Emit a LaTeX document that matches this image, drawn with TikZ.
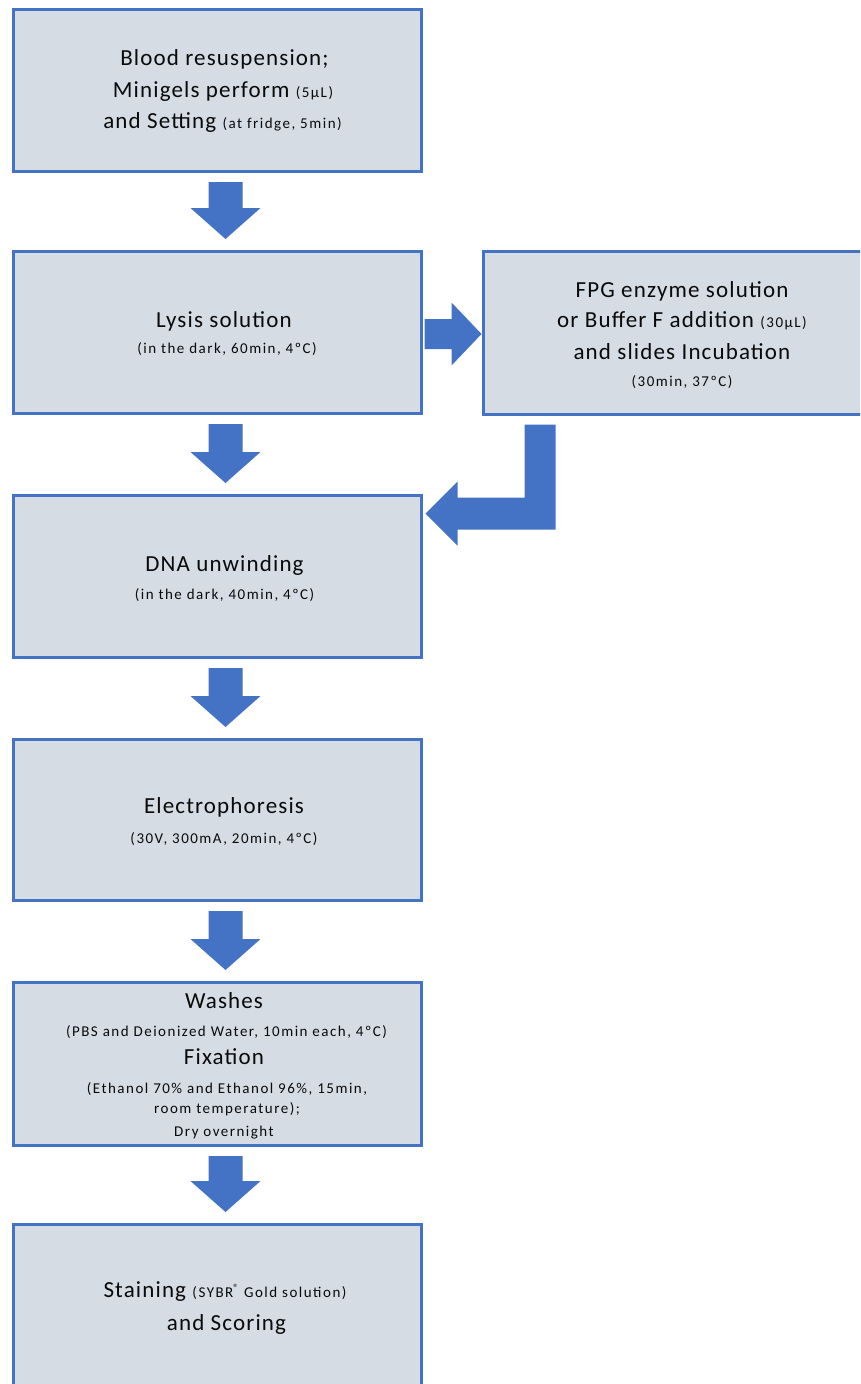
\documentclass[tikz,border=0pt]{standalone}
\usepackage{fontspec}
\setmainfont{Carlito}
\newfontfamily\MainFam[LetterSpace=5]{Carlito}
\newfontfamily\SmallFam[LetterSpace=10]{Carlito}
\newcommand\MainTxt{\MainFam\fontsize{23}{28}\selectfont}
\newcommand\SmTxt{\SmallFam\fontsize{15}{18}\selectfont}
\usetikzlibrary{calc}
\definecolor{boxfill}{HTML}{D5DCE4}
\definecolor{boxline}{HTML}{4472C4}
\definecolor{txt}{HTML}{0A0A0A}
\newcommand\DownArr[2]{%
 \fill[blk] let \p1=($(#1.south)+(8,9)$), \p2=($(#2.north)+(8,-11)$) in
 ({\x1-17pt},\y1) -- ({\x1+17pt},\y1) -- ({\x1+17pt},{\y2+31pt}) -- ({\x1+35pt},{\y2+31pt})
 -- (\x1,\y2) -- ({\x1-35pt},{\y2+31pt}) -- ({\x1-17pt},{\y2+31pt}) -- cycle;}
\begin{document}
\begin{tikzpicture}[x=1pt,y=-1pt,
 stepbox/.style={draw=boxline,line width=3pt,fill=boxfill,minimum width=408pt,minimum height=162pt,inner sep=0pt},
 ln/.style={anchor=base,inner sep=0pt,text=txt,font=\MainTxt},
 sl/.style={anchor=base,inner sep=0pt,text=txt,font=\SmTxt},
 blk/.style={fill=boxline}]
\useasboundingbox (0,0) rectangle (860,1384);
\begin{scope}
\clip (0,0) rectangle (860,1384);
% boxes
\node[stepbox] (b1) at (217.5,90.5) {};
\node[stepbox] (b2) at (217.5,332.5) {};
\node[stepbox,minimum width=396.5pt,minimum height=163pt] (fpg) at (681.75,333) {};
\node[stepbox] (b3) at (217.5,576.5) {};
\node[stepbox,minimum height=161pt] (b4) at (217.5,820) {};
\node[stepbox,minimum height=163pt] (b5) at (217.5,1064) {};
\node[stepbox,minimum height=163pt] (b6) at (217.5,1306) {};
% texts
\node[ln] (t1a) at (224.5,65) {Blood resuspension;};
\node[ln] (t1b) at (223,97) {Minigels perform {\SmTxt (5µL)}};
\node[ln] (t1c) at (222.5,128) {and Setting {\SmTxt (at fridge, 5min)}};
\node[ln] (t2a) at (224,327) {Lysis solution};
\node[sl] (t2b) at (227,353) {(in the dark, 60min, 4ºC)};
\node[ln] (tfa) at (682,297) {FPG enzyme solution};
\node[ln] (tfb) at (682,327) {or Buffer F addition {\SmTxt (30µL)}};
\node[ln] (tfc) at (682,359) {and slides Incubation};
\node[sl] (tfd) at (682,386) {(30min, 37ºC)};
\node[ln] (t3a) at (224.5,571) {DNA unwinding};
\node[sl] (t3b) at (224.5,599) {(in the dark, 40min, 4ºC)};
\node[ln] (t4a) at (224,813) {Electrophoresis};
\node[sl] (t4b) at (224,843) {(30V, 300mA, 20min, 4ºC)};
\node[ln] (t5a) at (224,1008) {Washes};
\node[sl] (t5b) at (226.5,1036) {(PBS and Deionized Water, 10min each, 4ºC)};
\node[ln] (t5c) at (224,1064) {Fixation};
\node[sl] (t5d) at (227,1093) {(Ethanol 70\% and Ethanol 96\%, 15min,};
\node[sl] (t5e) at (227,1113) {room temperature);};
\node[sl] (t5f) at (224,1136) {Dry overnight};
\node[ln] (t6a) at (225,1297) {Staining {\SmTxt (SYBR\textsuperscript{®} Gold solution)}};
\node[ln] (t6b) at (226.5,1330) {and Scoring};
% arrows
\DownArr{b1}{b2}
\DownArr{b2}{b3}
\DownArr{b3}{b4}
\DownArr{b4}{b5}
\DownArr{b5}{b6}
\fill[blk] let \p1=($(b2.east)+(1.5,1.5)$), \p2=($(fpg.west)+(-0.5,1)$) in
 (\x1,{\y1+15pt}) -- ({\x2-30pt},{\y1+15pt}) -- ({\x2-30pt},{\y1+31.5pt}) -- (\x2,\y1)
 -- ({\x2-30pt},{\y1-31.5pt}) -- ({\x2-30pt},{\y1-15pt}) -- (\x1,{\y1-15pt}) -- cycle;
\fill[blk] let \p1=($(fpg.south west)+(58,8.5)$), \p2=($(b3.north east)+(2.5,19.5)$) in
 ({\x1-15.5pt},\y1) -- ({\x1+15.5pt},\y1) -- ({\x1+15.5pt},{\y2-16pt}) -- ({\x2+32pt},{\y2-16pt})
 -- ({\x2+32pt},{\y2-32pt}) -- (\x2,\y2) -- ({\x2+32pt},{\y2+32pt}) -- ({\x2+32pt},{\y2+16pt})
 -- ({\x1-15.5pt},{\y2+16pt}) -- cycle;
\end{scope}
\end{tikzpicture}
\end{document}
